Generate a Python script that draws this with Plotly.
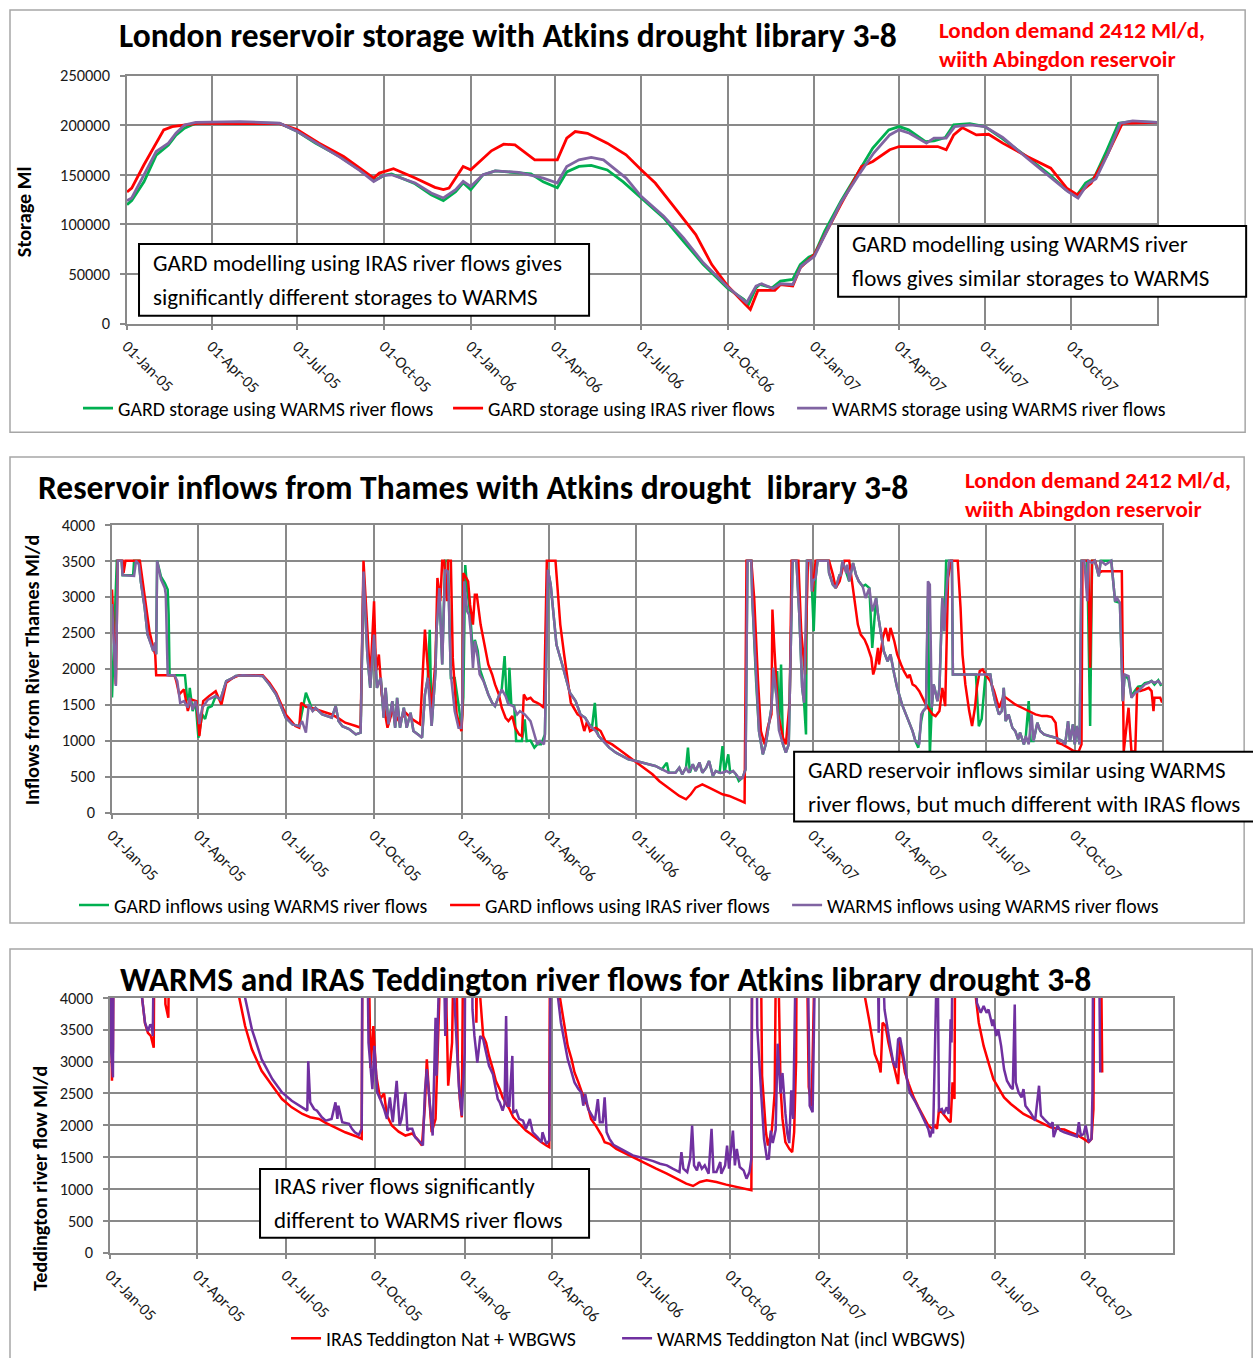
import pandas as pd
import plotly.graph_objects as go

W, H = 1253, 1358
START = pd.Timestamp("2005-01-01")
FONT = "Carlito, Calibri, 'Open Sans', sans-serif"
GRID = "#898989"
GREEN, RED, PURPLE, PURPLE3 = "#00b050", "#ff0000", "#8064a2", "#7030a0"

# ---------------- data: (days since 01-Jan-05, value) ----------------
# Panel 1: London reservoir storage (Ml)
STORAGE_GARD_WARMS = [
    (0, 120000), (5, 124000), (18, 143000), (31, 170000), (44, 180000), (52, 190000), (61, 197000),
    (73, 202000), (90, 203000), (162, 202000), (181, 193700), (200, 182000), (226, 168500),
    (247, 155000), (264, 145000), (273, 149500), (281, 151000), (306, 141000), (323, 130000),
    (336, 124000), (349, 133000), (357, 142000), (365, 135000), (378, 150000), (391, 154000),
    (416, 152000), (429, 151000), (442, 143000), (457, 137000), (467, 153000), (480, 158500),
    (493, 159500), (510, 155000), (527, 143000), (546, 126700), (570, 106600), (591, 83100),
    (612, 59600), (638, 35500), (655, 24500), (660, 19400), (668, 36200), (672, 39500),
    (685, 36200), (694, 42900), (707, 44600), (715, 59600), (724, 67000), (730, 69700),
    (741, 93200), (758, 123300), (775, 150100), (792, 177000), (809, 195400), (820, 198700),
    (830, 195400), (848, 183600), (857, 184300), (869, 187700), (878, 200400), (895, 201700),
    (911, 198700), (929, 187000), (955, 168600), (980, 150100), (997, 135100), (1008, 128400),
    (1018, 141800), (1027, 146800), (1040, 173600), (1053, 202000), (1066, 203800), (1094, 203000),
]
STORAGE_GARD_IRAS = [
    (0, 132700), (5, 136700), (18, 160200), (31, 182000), (39, 195400), (48, 198700), (65, 200400),
    (77, 202100), (120, 201700), (162, 201700), (181, 195400), (204, 182000), (230, 168600),
    (247, 156800), (262, 146800), (268, 151800), (273, 153500), (283, 156200), (306, 146800),
    (327, 137400), (336, 135100), (342, 136700), (357, 158500), (365, 155200), (387, 174300),
    (400, 181000), (412, 180300), (433, 165200), (457, 165200), (467, 187000), (476, 193700),
    (489, 192000), (510, 182000), (530, 170200), (546, 155200), (561, 141800), (582, 116600),
    (604, 89800), (621, 59600), (638, 37900), (655, 21100), (662, 14400), (670, 33500),
    (688, 33500), (694, 39500), (707, 37900), (715, 56300), (730, 69700), (758, 120000),
    (780, 158500), (792, 163500), (810, 175300), (820, 178600), (861, 178600), (870, 175300),
    (878, 190300), (887, 197700), (902, 190300), (915, 191000), (930, 182000), (956, 168600),
    (981, 156800), (998, 136700), (1009, 130000), (1024, 141800), (1041, 170200), (1057, 202000),
    (1094, 203000),
]
STORAGE_WARMS = [
    (0, 124000), (5, 126700), (18, 150100), (31, 173600), (44, 182000), (52, 192000), (61, 200400),
    (73, 203000), (120, 203800), (162, 202100), (181, 193700), (205, 180300), (226, 167900),
    (247, 154500), (262, 143400), (273, 149500), (281, 150100), (306, 141800), (323, 131700),
    (336, 126700), (349, 135100), (357, 143400), (365, 138400), (378, 150100), (391, 154100),
    (416, 152500), (442, 146800), (457, 141800), (467, 158500), (480, 165200), (493, 167600),
    (506, 165200), (530, 146800), (546, 128400), (570, 108200), (591, 86500), (612, 61300),
    (638, 36900), (658, 21100), (668, 37900), (674, 40200), (686, 35500), (694, 40200),
    (707, 39500), (716, 58000), (730, 68000), (758, 121600), (776, 148500), (793, 172000),
    (810, 190300), (820, 195400), (831, 192000), (849, 182000), (857, 187000), (870, 187000),
    (879, 198700), (896, 200400), (911, 198700), (930, 187700), (956, 166900), (982, 146800),
    (999, 133400), (1010, 126700), (1020, 140800), (1029, 146100), (1042, 172000), (1055, 202000),
    (1068, 204400), (1094, 203000),
]

# Panel 2: reservoir inflows from Thames (Ml/d)
INFLOW_GARD_WARMS = [
    (0, 1600), (3, 2600), (5, 3500), (10, 3500), (11, 3300), (22, 3300), (23, 3500), (28, 3500),
    (30, 3210), (34, 2850), (37, 2475), (41, 2335), (43, 2245), (45, 2360), (46, 2200), (47, 3500),
    (51, 3280), (55, 3190), (58, 3100), (59, 2750), (60, 1910), (76, 1910), (78, 1619), (80, 1549),
    (81, 1734), (84, 1410), (87, 1549), (90, 1041), (94, 1364), (97, 1300), (100, 1457), (104, 1480),
    (108, 1620), (113, 1570), (119, 1827), (126, 1873), (129, 1900), (136, 1910), (153, 1910),
    (157, 1900), (164, 1780), (171, 1642), (181, 1318), (188, 1226), (195, 1200), (199, 1480),
    (202, 1665), (206, 1526), (209, 1410), (212, 1457), (219, 1364), (229, 1318), (233, 1480),
    (236, 1272), (240, 1200), (247, 1160), (254, 1087), (259, 1110), (262, 3300), (266, 2190),
    (269, 1734), (273, 2475), (276, 1734), (280, 1873), (283, 1318), (285, 1734), (288, 1226),
    (292, 1549), (295, 1179), (297, 1595), (300, 1179), (304, 1457), (307, 1179), (311, 1387),
    (314, 1133), (319, 1087), (323, 1041), (326, 1642), (329, 1873), (331, 2540), (333, 1203),
    (337, 1965), (338, 2520), (341, 3120), (344, 2058), (347, 3500), (350, 3500), (353, 1870),
    (357, 1870), (361, 1500), (364, 1179), (366, 1600), (368, 3440), (370, 3100), (372, 2900),
    (374, 2600), (376, 2200), (378, 2400), (381, 2250), (383, 2000), (387, 1827), (392, 1642),
    (396, 1526), (399, 1480), (403, 1619), (406, 1711), (409, 2174), (411, 1619), (413, 1503),
    (414, 2012), (416, 1503), (419, 1480), (421, 994), (425, 1000), (427, 994), (430, 1295),
    (432, 994), (436, 1000), (440, 902), (443, 948), (447, 948), (451, 1087), (454, 3376),
    (457, 3168), (460, 2752), (463, 2335), (469, 2058), (474, 1827), (477, 1665), (483, 1549),
    (488, 1364), (493, 1318), (497, 1226), (500, 1179), (503, 1526), (505, 1133), (507, 1064),
    (512, 994), (518, 902), (525, 833), (532, 786), (538, 740), (546, 717), (553, 694), (559, 671),
    (566, 648), (573, 601), (578, 694), (580, 555), (587, 555), (591, 624), (594, 532), (598, 624),
    (600, 902), (602, 555), (605, 671), (608, 578), (612, 694), (615, 555), (619, 624), (622, 717),
    (626, 509), (629, 578), (633, 555), (636, 925), (638, 555), (642, 809), (644, 555), (647, 578),
    (650, 532), (653, 440), (657, 486), (660, 601), (662, 3500), (666, 3500), (667, 2983),
    (671, 1827), (674, 1133), (678, 809), (681, 948), (687, 1457), (689, 2012), (692, 1642),
    (693, 1966), (695, 1133), (697, 2058), (699, 948), (702, 833), (705, 948), (707, 2475),
    (709, 3500), (713, 3500), (716, 2752), (719, 1734), (721, 1526), (723, 1087), (724, 3500),
    (728, 3500), (731, 2520), (733, 3260), (735, 3500), (746, 3500), (747, 3330), (751, 3168),
    (754, 3122), (758, 3307), (759, 3284), (761, 3500), (765, 3330), (768, 3214), (772, 3469),
    (775, 3307), (778, 3214), (782, 3145), (785, 3168), (789, 3122), (792, 2290), (796, 2983),
    (798, 2752), (801, 2474), (804, 2243), (808, 2104), (811, 2197), (815, 1919), (818, 1734),
    (823, 1503), (827, 1364), (830, 1272), (834, 1133), (837, 994), (840, 902), (843, 1272),
    (845, 1411), (848, 1457), (850, 2983), (852, 800), (854, 1457), (856, 1781), (860, 1549),
    (862, 1734), (865, 2983), (867, 2520), (869, 3500), (875, 3500), (876, 1919), (900, 1919),
    (903, 1200), (906, 1300), (910, 1919), (915, 1919), (917, 1734), (920, 1549), (924, 1364),
    (927, 1411), (929, 1734), (931, 1272), (934, 1364), (938, 1179), (941, 1133), (944, 1018),
    (946, 1110), (950, 948), (952, 1064), (955, 1549), (957, 994), (960, 994), (964, 1249),
    (967, 1133), (971, 1087), (976, 1064), (983, 1041), (990, 994), (993, 948), (996, 1272),
    (998, 994), (1001, 1226), (1003, 948), (1005, 1203), (1008, 948), (1010, 3500), (1016, 3500),
    (1019, 1203), (1021, 3500), (1024, 3500), (1028, 3284), (1030, 3500), (1041, 3500),
    (1045, 2937), (1050, 2914), (1053, 1549), (1055, 1919), (1059, 1850), (1062, 1620),
    (1066, 1700), (1069, 1750), (1073, 1760), (1076, 1800), (1080, 1810), (1083, 1830),
    (1086, 1780), (1090, 1840), (1093, 1760),
]
INFLOW_GARD_IRAS = [
    (0, 3100), (4, 1780), (6, 3500), (11, 3500), (12, 3330), (14, 3500), (29, 3500), (32, 3215),
    (36, 2800), (39, 2520), (43, 2290), (45, 2200), (46, 1910), (65, 1910), (67, 1827), (70, 1642),
    (75, 1711), (79, 1411), (82, 1573), (88, 1549), (91, 1064), (95, 1549), (101, 1619), (108, 1688),
    (114, 1503), (119, 1804), (126, 1873), (133, 1910), (157, 1910), (164, 1804), (171, 1665),
    (181, 1364), (191, 1203), (195, 1179), (197, 1526), (202, 1469), (209, 1450), (219, 1404),
    (229, 1364), (236, 1309), (243, 1249), (254, 1203), (259, 1179), (262, 3500), (265, 2752),
    (268, 1919), (269, 1827), (273, 2937), (275, 1966), (278, 2197), (281, 1642), (287, 1179),
    (292, 1411), (299, 1272), (306, 1387), (313, 1295), (321, 1226), (326, 2544), (330, 1827),
    (333, 1457), (337, 2104), (339, 3261), (342, 2937), (344, 3500), (346, 3500), (349, 2937),
    (350, 3500), (353, 3500), (355, 2150), (359, 1364), (364, 1133), (365, 1364), (366, 3330),
    (369, 3261), (371, 3214), (373, 2890), (376, 2613), (378, 3029), (380, 3029), (384, 2613),
    (389, 2289), (392, 2058), (396, 1919), (399, 1781), (403, 1642), (406, 1457), (410, 1318),
    (413, 1272), (417, 1341), (420, 1179), (424, 1087), (427, 1064), (429, 1642), (432, 1573),
    (436, 1596), (439, 1549), (443, 1526), (446, 1503), (450, 1457), (453, 3500), (462, 3500),
    (465, 3029), (467, 2613), (471, 2197), (474, 1873), (478, 1526), (481, 1457), (485, 1364),
    (488, 1341), (492, 1133), (495, 1272), (498, 1133), (504, 1179), (509, 1133), (514, 994),
    (521, 948), (528, 879), (535, 809), (542, 740), (549, 671), (556, 601), (563, 532), (570, 439),
    (577, 370), (584, 300), (591, 231), (598, 185), (603, 254), (608, 347), (615, 393), (622, 347),
    (629, 300), (636, 254), (643, 231), (650, 185), (655, 162), (659, 139), (661, 3500), (666, 3500),
    (669, 2983), (673, 1827), (676, 1133), (680, 948), (683, 1179), (687, 1364), (688, 2821),
    (690, 2289), (694, 1364), (699, 1041), (702, 948), (706, 1549), (708, 3500), (715, 3500),
    (718, 2520), (722, 1919), (725, 3500), (728, 3500), (730, 3075), (733, 3500), (747, 3500),
    (751, 3307), (754, 3122), (758, 3214), (761, 3376), (763, 3500), (768, 3500), (771, 3214),
    (773, 3029), (777, 2613), (780, 2474), (784, 2405), (787, 2312), (791, 2150), (793, 1919),
    (795, 2012), (798, 2289), (799, 2058), (803, 2428), (806, 2567), (809, 2382), (811, 2567),
    (815, 2382), (818, 2197), (822, 2058), (825, 1966), (829, 1873), (831, 1919), (834, 1781),
    (837, 1758), (841, 1688), (844, 1596), (847, 1526), (850, 1457), (855, 1364), (858, 1341),
    (862, 1411), (865, 1734), (868, 1480), (871, 3261), (874, 3500), (881, 3500), (884, 2844),
    (886, 2197), (889, 1781), (893, 1411), (896, 1203), (899, 1457), (901, 1734), (904, 1966),
    (907, 1989), (910, 1919), (915, 1827), (919, 1688), (924, 1457), (929, 1619), (934, 1573),
    (941, 1503), (948, 1457), (955, 1411), (962, 1364), (969, 1341), (974, 1341), (979, 1327),
    (983, 1249), (985, 971), (990, 948), (996, 902), (1002, 856), (1007, 846), (1010, 948),
    (1011, 3500), (1017, 3500), (1019, 2012), (1021, 3500), (1024, 3500), (1028, 3330),
    (1031, 3353), (1052, 3353), (1054, 850), (1059, 1457), (1062, 850), (1066, 850), (1068, 1734),
    (1071, 1688), (1076, 1711), (1080, 1734), (1083, 1688), (1085, 1411), (1086, 1596),
    (1092, 1596), (1094, 1530),
]
INFLOW_WARMS = [
    (0, 2900), (4, 1760), (6, 3500), (10, 3500), (11, 3300), (23, 3290), (25, 3500), (28, 3450),
    (30, 3210), (34, 2850), (37, 2475), (41, 2335), (43, 2245), (45, 2360), (46, 2200), (47, 3500),
    (49, 3350), (51, 3240), (55, 3120), (56, 3030), (58, 1910), (65, 1910), (68, 1827), (71, 1525),
    (75, 1550), (79, 1457), (81, 1595), (84, 1430), (87, 1550), (90, 1364), (91, 1230), (94, 1457),
    (100, 1570), (108, 1620), (113, 1570), (119, 1827), (126, 1873), (129, 1900), (136, 1910),
    (153, 1910), (157, 1900), (164, 1780), (171, 1642), (181, 1318), (188, 1226), (195, 1200),
    (198, 1272), (202, 1110), (205, 1503), (209, 1410), (212, 1457), (219, 1364), (229, 1318),
    (233, 1480), (236, 1272), (240, 1200), (247, 1160), (254, 1087), (259, 1110), (262, 3350),
    (266, 2190), (269, 1734), (273, 2475), (276, 1734), (280, 1873), (283, 1318), (285, 1734),
    (288, 1226), (292, 1549), (295, 1179), (297, 1595), (300, 1179), (304, 1457), (307, 1179),
    (311, 1387), (314, 1133), (319, 1087), (323, 1041), (326, 1642), (329, 1873), (333, 1203),
    (337, 1965), (338, 2520), (341, 3120), (344, 2058), (347, 3376), (350, 3350), (353, 1920),
    (357, 1411), (361, 1179), (364, 1179), (365, 1549), (367, 3214), (369, 2983), (370, 2798),
    (372, 2752), (374, 2475), (376, 2012), (378, 2382), (381, 2150), (383, 1920), (387, 1827),
    (392, 1642), (396, 1526), (399, 1480), (403, 1619), (406, 1711), (410, 1619), (413, 1503),
    (418, 1480), (422, 1364), (425, 1411), (430, 1364), (436, 1272), (439, 1133), (443, 948),
    (446, 994), (450, 948), (451, 1087), (454, 3376), (457, 3168), (460, 2752), (463, 2335),
    (469, 2058), (474, 1827), (477, 1665), (483, 1549), (488, 1364), (493, 1318), (497, 1226),
    (500, 1179), (504, 1133), (507, 1064), (512, 994), (518, 902), (525, 833), (532, 786),
    (538, 740), (546, 717), (553, 694), (559, 671), (566, 648), (573, 601), (580, 555), (587, 555),
    (591, 624), (594, 532), (598, 624), (601, 555), (605, 671), (608, 578), (612, 694), (615, 555),
    (619, 624), (622, 717), (626, 509), (629, 578), (633, 555), (636, 555), (640, 578), (643, 555),
    (647, 578), (650, 532), (654, 463), (657, 486), (660, 601), (662, 3500), (666, 3500),
    (667, 2983), (671, 1827), (674, 1133), (678, 809), (681, 948), (687, 1457), (689, 2012),
    (692, 1642), (695, 1133), (699, 948), (702, 833), (705, 948), (707, 2475), (709, 3500),
    (713, 3500), (716, 2752), (719, 1734), (721, 1526), (724, 3500), (728, 3500), (729, 3075),
    (730, 3214), (733, 3260), (735, 3500), (746, 3500), (747, 3330), (751, 3168), (754, 3122),
    (758, 3307), (759, 3284), (761, 3500), (765, 3330), (766, 3446), (768, 3214), (772, 3469),
    (775, 3307), (778, 3214), (782, 3145), (785, 2983), (789, 3122), (792, 2798), (796, 2983),
    (798, 2752), (801, 2474), (804, 2243), (808, 2104), (811, 2197), (815, 1919), (818, 1734),
    (823, 1503), (827, 1364), (830, 1272), (834, 1133), (837, 994), (841, 948), (843, 1364),
    (845, 1411), (848, 1457), (850, 3214), (852, 3168), (854, 1457), (856, 1781), (860, 1549),
    (862, 1734), (865, 2983), (867, 2520), (869, 3029), (872, 3500), (875, 3500), (876, 1919),
    (915, 1919), (917, 1734), (920, 1549), (924, 1364), (927, 1411), (929, 1734), (931, 1272),
    (934, 1364), (938, 1179), (941, 1133), (944, 1018), (946, 1110), (950, 948), (952, 1064),
    (955, 948), (958, 1364), (960, 994), (964, 1249), (967, 1133), (971, 1087), (976, 1064),
    (983, 1041), (990, 994), (993, 948), (996, 1272), (998, 994), (1001, 1226), (1003, 948),
    (1005, 1203), (1008, 948), (1010, 3500), (1013, 3500), (1016, 2937), (1017, 3500),
    (1021, 3469), (1024, 3500), (1028, 3284), (1030, 3500), (1035, 3446), (1041, 3500),
    (1045, 2937), (1047, 2983), (1050, 2914), (1053, 1549), (1055, 1919), (1059, 1896),
    (1062, 1596), (1066, 1665), (1069, 1688), (1073, 1734), (1076, 1781), (1080, 1804),
    (1083, 1827), (1086, 1804), (1090, 1827), (1093, 1781),
]

# Panel 3: Teddington river flows (Ml/d); values above 4000 run off the top of the chart
TEDD_IRAS = [
    (0, 6000), (1, 3500), (2, 2700), (3, 3200), (4, 6000), (30, 6000), (33, 4000), (36, 3600),
    (39, 3450), (42, 3400), (45, 3218), (46, 6000), (55, 6000), (57, 3900), (60, 3687), (62, 6000),
    (130, 6000), (133, 4000), (139, 3557), (146, 3192), (156, 2854), (167, 2620), (177, 2411),
    (187, 2281), (198, 2177), (206, 2125), (215, 2099), (222, 2036), (232, 1968), (242, 1890),
    (253, 1828), (259, 1786), (260, 6000), (265, 6000), (268, 2900), (271, 3557), (274, 2776),
    (278, 2411), (282, 2500), (285, 2151), (290, 1995), (297, 1900), (304, 1838), (311, 1870),
    (316, 1786), (321, 1682), (324, 2300), (326, 3036), (328, 2550), (331, 1890), (335, 2099),
    (338, 4200), (343, 6000), (346, 4000), (348, 2620), (352, 3297), (355, 6000), (358, 3000),
    (360, 2400), (362, 2125), (364, 6000), (376, 6000), (377, 3609), (379, 6000), (381, 4000),
    (384, 3401), (387, 3297), (390, 3088), (394, 2880), (397, 2698), (401, 2567), (404, 2437),
    (408, 2333), (411, 2255), (415, 2125), (418, 2073), (421, 2021), (425, 1969), (428, 1916),
    (433, 1864), (439, 1786), (444, 1734), (449, 1682), (452, 1656), (453, 6000), (460, 6000),
    (463, 4000), (468, 3505), (471, 3245), (475, 3036), (478, 2828), (482, 2672), (485, 2541),
    (488, 2411), (492, 2281), (495, 2099), (500, 1990), (506, 1838), (509, 1734), (514, 1708),
    (521, 1630), (531, 1552), (542, 1474), (552, 1396), (562, 1318), (573, 1240), (583, 1161),
    (593, 1083), (600, 1047), (607, 1109), (614, 1135), (624, 1109), (634, 1068), (645, 1031),
    (655, 1005), (660, 979), (661, 6000), (669, 6000), (671, 2776), (675, 1890), (677, 1682),
    (681, 1916), (684, 2515), (686, 6000), (690, 2600), (692, 2099), (695, 1734), (699, 1630),
    (702, 1578), (704, 1890), (706, 3000), (707, 6000), (716, 6000), (719, 2600), (722, 2300),
    (725, 3500), (727, 6000), (776, 6000), (777, 4000), (781, 3666), (784, 3354), (787, 3114),
    (791, 2960), (793, 2828), (795, 3609), (798, 3560), (801, 3297), (805, 3036), (808, 2828),
    (811, 2646), (813, 3323), (815, 3097), (818, 2828), (822, 2646), (827, 2437), (832, 2281),
    (837, 2125), (842, 1995), (846, 1943), (849, 1995), (851, 1943), (853, 2229), (856, 2203),
    (860, 2125), (863, 2073), (865, 2047), (867, 2672), (869, 2411), (870, 6000), (889, 6000),
    (891, 4000), (894, 3609), (899, 3245), (904, 2984), (909, 2724), (915, 2567), (920, 2437),
    (927, 2333), (933, 2255), (940, 2177), (947, 2125), (954, 2073), (961, 2021), (968, 1968),
    (975, 1943), (982, 1932), (988, 1890), (995, 1849), (1002, 1786), (1007, 1734), (1010, 1786),
    (1012, 2255), (1013, 6000), (1019, 6000), (1021, 2828),
]
TEDD_WARMS = [
    (0, 6000), (1, 3200), (3, 2750), (4, 6000), (32, 6000), (33, 4000), (36, 3609), (39, 3479),
    (41.5, 3583), (43, 3550), (44, 3400), (46, 6000), (131, 6000), (139, 4000), (146, 3505),
    (156, 3036), (167, 2724), (177, 2515), (187, 2385), (198, 2281), (203, 2229), (204, 3005),
    (206, 2359), (210, 2255), (213, 2229), (218, 2125), (222, 2073), (228, 2099), (232, 2359),
    (234, 2099), (235, 2307), (239, 2047), (246, 2021), (249, 1943), (252, 1890), (256, 1849),
    (259, 1943), (260, 6000), (264, 6000), (266, 3297), (270, 2567), (272, 3245), (275, 2515),
    (278, 2411), (282, 2255), (285, 2099), (288, 2437), (291, 2047), (295, 2698), (298, 1995),
    (300, 2099), (304, 2515), (306, 1916), (308, 1943), (311, 1943), (314, 1812), (318, 1760),
    (321, 1708), (322, 1682), (324, 2515), (326, 2880), (330, 2099), (332, 1838), (335, 3687),
    (336, 2776), (338, 4000), (342, 6000), (345, 3400), (347, 6000), (350, 6000), (355, 3800),
    (359, 2600), (362, 2151), (365, 3141), (366, 6000), (372, 6000), (373, 3817), (375, 3401),
    (378, 2984), (381, 3401), (384, 3349), (387, 3141), (390, 2932), (394, 2802), (397, 2594),
    (399, 2411), (401, 2359), (404, 2229), (406, 2333), (407.6, 3713), (409, 2307), (411, 2307),
    (414, 3088), (415, 2203), (418, 2229), (421, 2099), (425, 2073), (428, 1943), (432, 2099),
    (435, 1890), (440, 1812), (444, 1734), (445, 1890), (449, 1708), (452, 1760), (454, 6000),
    (459, 6000), (461, 4000), (464, 3609), (468, 3297), (471, 3036), (475, 2828), (478, 2672),
    (482, 2567), (485, 2515), (487, 2307), (489, 2489), (492, 2255), (495, 2177), (499, 2073),
    (502, 2411), (504, 2047), (507, 2047), (509, 2437), (511, 1890), (514, 1786), (518, 1693),
    (525, 1630), (531, 1588), (538, 1526), (545, 1500), (552, 1474), (559, 1437), (566, 1396),
    (573, 1370), (579, 1318), (586, 1265), (588, 1578), (590, 1318), (594, 1265), (597, 1474),
    (599, 1995), (601, 1370), (604, 1292), (606, 1422), (609, 1318), (612, 1370), (616, 1240),
    (619, 1943), (621, 1265), (624, 1265), (628, 1422), (629, 1240), (633, 1370), (635, 1682),
    (637, 1318), (640, 1703), (641, 1916), (643, 1370), (645, 1630), (648, 1344), (652, 1292),
    (655, 1161), (658, 1265), (660, 1474), (661, 6000), (665, 6000), (666, 3557), (670, 2515),
    (673, 1786), (676, 1474), (678, 1480), (680, 1916), (682, 1720), (685, 1930), (687, 3280),
    (690, 2500), (692, 2820), (695, 2190), (697, 1870), (699, 1720), (701, 2550), (703, 2100),
    (705, 3180), (707, 6000), (717, 6000), (720, 2307), (723, 2203), (725, 3141), (727, 6000),
    (789, 6000), (790, 4000), (791, 3453), (792, 6000), (797, 3817), (801, 3401), (803, 3245),
    (806, 2984), (809, 2900), (811, 3349), (813, 3375), (817, 3036), (820, 2724), (823, 2515),
    (829, 2359), (834, 2203), (839, 2047), (842, 1943), (844, 1812), (846, 1943), (847, 1870),
    (850, 3974), (851, 6000), (853, 2229), (856, 2255), (858, 2177), (861, 2281), (863, 2177),
    (865, 3661), (866, 3297), (868, 6000), (890, 6000), (892, 3921), (896, 3765), (899, 3870),
    (902, 3765), (904, 3817), (908, 3557), (909, 3661), (912, 3401), (914, 3505), (917, 3245),
    (920, 2880), (923, 2698), (927, 2594), (929, 2567), (931, 3895), (932, 2672), (935, 2515),
    (938, 2437), (940, 2567), (942, 2307), (947, 2203), (952, 2073), (956, 2620), (958, 2151),
    (961, 2099), (964, 2047), (968, 1995), (970, 2047), (971, 1812), (975, 1995), (978, 1916),
    (982, 1890), (988, 1864), (995, 1823), (997, 2047), (999, 1838), (1002, 1864), (1004, 1995),
    (1006, 1838), (1007, 1734), (1010, 1786), (1011, 2515), (1012, 6000), (1017, 6000),
    (1019, 2828),
]

TITLES = [
    "London reservoir storage with Atkins drought library 3-8",
    "Reservoir inflows from Thames with Atkins drought  library 3-8",
    "WARMS and IRAS Teddington river flows for Atkins library drought 3-8",
]
Y_TITLES = ["Storage Ml", "Inflows from River Thames Ml/d", "Teddington river flow Ml/d"]
NOTE = ["London demand 2412 Ml/d,", "wiith Abingdon reservoir"]

# Layout positions below are given in screen pixels of the target picture.  The page is
# photographed with a small offset/scale, measured as screen = a + b * page.
CAL_X = (7.0, 0.9927)
CAL_Y = (8.0, 0.988)


def px(x):
    return ((x - CAL_X[0]) / CAL_X[1]) / W


def py(y):
    return 1 - ((y - CAL_Y[0]) / CAL_Y[1]) / H


def series(pairs):
    days = [p[0] for p in pairs]
    vals = [p[1] for p in pairs]
    return START + pd.to_timedelta(days, unit="D"), vals


fig = go.Figure()

traces = [
    (STORAGE_GARD_WARMS, "GARD storage using WARMS river flows", GREEN, "", "legend", 2.8),
    (STORAGE_GARD_IRAS, "GARD storage using IRAS river flows", RED, "", "legend2", 2.8),
    (STORAGE_WARMS, "WARMS storage using WARMS river flows", PURPLE, "", "legend3", 2.8),
    (INFLOW_GARD_WARMS, "GARD inflows using WARMS river flows", GREEN, "2", "legend4", 2.5),
    (INFLOW_GARD_IRAS, "GARD inflows using IRAS river flows", RED, "2", "legend5", 2.5),
    (INFLOW_WARMS, "WARMS inflows using WARMS river flows", PURPLE, "2", "legend6", 2.5),
    (TEDD_IRAS, "IRAS Teddington Nat + WBGWS", RED, "3", "legend7", 2.5),
    (TEDD_WARMS, "WARMS Teddington Nat (incl WBGWS)", PURPLE3, "3", "legend8", 2.5),
]
for data, name, col, ax, leg, lw in traces:
    xs, ys = series(data)
    fig.add_trace(go.Scatter(
        x=xs, y=ys, mode="lines", name=name, line=dict(color=col, width=lw),
        xaxis="x" + ax, yaxis="y" + ax, legend=leg, showlegend=True,
    ))

tickfont = dict(family=FONT, size=16.4, color="#1a1a1a")
common = dict(showgrid=True, gridcolor=GRID, gridwidth=1.5, showline=True, linecolor=GRID,
              linewidth=1.5, mirror=True, ticks="outside", ticklen=5, tickcolor=GRID,
              tickwidth=1.5, zeroline=False, fixedrange=True, tickfont=tickfont)
ycommon = dict(common, tickformat="d", ticklabelstandoff=7)
xcommon = dict(common, type="date", tickformat="%d-%b-%y", dtick="M3", tick0="2005-01-01",
               tickangle=45, range=["2005-01-01", "2007-12-31"],
               tickfont=dict(family=FONT, size=16.2, color="#1a1a1a"))

# panel plot areas in target pixels: (left, right, top, bottom)
P1 = (125, 1155, 74, 323)
P2 = (110, 1160, 525, 814)
P3 = (108, 1171, 1000, 1256)

fig.update_layout(
    width=W, height=H, margin=dict(l=0, r=0, t=0, b=0),
    paper_bgcolor="white", plot_bgcolor="white",
    font=dict(family=FONT, color="black"),
    xaxis=dict(xcommon, domain=[px(P1[0]), px(P1[1])], anchor="y"),
    yaxis=dict(ycommon, domain=[py(P1[3]), py(P1[2])], range=[0, 250000], dtick=50000,
               anchor="x"),
    xaxis2=dict(xcommon, domain=[px(P2[0]), px(P2[1])], anchor="y2"),
    yaxis2=dict(ycommon, domain=[py(P2[3]), py(P2[2])], range=[0, 4000], dtick=500,
                anchor="x2"),
    xaxis3=dict(xcommon, domain=[px(P3[0]), px(P3[1])], anchor="y3"),
    yaxis3=dict(ycommon, domain=[py(P3[3]), py(P3[2])], range=[0, 4000], dtick=500,
                anchor="x3"),
    showlegend=True,
)

legend_pos = {
    "legend": (82, 408), "legend2": (452, 408), "legend3": (796, 408),
    "legend4": (78, 907), "legend5": (449, 907), "legend6": (791, 907),
    "legend7": (290, 1342), "legend8": (621, 1342),
}
for key, (lx, ly) in legend_pos.items():
    fig.update_layout({key: dict(
        x=px(lx - 6), y=py(ly), xanchor="left", yanchor="middle", orientation="h",
        bgcolor="rgba(0,0,0,0)", borderwidth=0, itemwidth=30,
        font=dict(family=FONT, size=19.8, color="black"),
    )})

shapes = []
annotations = []

for (x0, y0, x1, y1) in [(8, 8, 1243, 432), (8, 457, 1242, 925), (8, 951, 1250, 1372)]:
    shapes.append(dict(type="rect", xref="paper", yref="paper", x0=px(x0), x1=px(x1),
                       y0=py(y1), y1=py(y0), line=dict(color="#a6a6a6", width=1.5),
                       fillcolor="rgba(0,0,0,0)", layer="below"))

for text, cx, cy in [(TITLES[0], 506, 34), (TITLES[1], 471, 488), (TITLES[2], 603, 982)]:
    annotations.append(dict(text="<b>%s</b>" % text, x=px(cx), y=py(cy), xref="paper",
                            yref="paper", showarrow=False, xanchor="center", yanchor="middle",
                            font=dict(family=FONT, size=33.5, color="black")))

for lx, ly in [(935, 28), (961, 480)]:
    for i, line in enumerate(NOTE):
        annotations.append(dict(text="<b>%s</b>" % line, x=px(lx), y=py(ly + 29 * i),
                                xref="paper", yref="paper", showarrow=False, xanchor="left",
                                yanchor="middle", font=dict(family=FONT, size=23, color=RED)))

for text, cx, cy in [(Y_TITLES[0], 22, 211), (Y_TITLES[1], 30, 671), (Y_TITLES[2], 38, 1182)]:
    annotations.append(dict(text="<b>%s</b>" % text, x=px(cx), y=py(cy), xref="paper",
                            yref="paper", showarrow=False, textangle=-90, xanchor="center",
                            yanchor="middle", font=dict(family=FONT, size=20.2, color="black")))

boxes = [
    ((137, 243, 587, 315), ["GARD modelling using IRAS river flows gives",
                            "significantly different storages to WARMS"]),
    ((836, 225, 1244, 296), ["GARD modelling using WARMS river",
                             "flows gives similar storages to WARMS"]),
    ((792, 753, 1262, 823), ["GARD reservoir inflows similar using WARMS",
                             "river flows, but much different with IRAS flows"]),
    ((258, 1172, 587, 1241), ["IRAS river flows significantly",
                              "different to WARMS river flows"]),
]
for (x0, y0, x1, y1), lines in boxes:
    shapes.append(dict(type="rect", xref="paper", yref="paper", x0=px(x0), x1=px(x1),
                       y0=py(y1), y1=py(y0), line=dict(color="black", width=2),
                       fillcolor="white", layer="above"))
    mid = (y0 + y1) / 2
    for i, line in enumerate(lines):
        annotations.append(dict(text=line, x=px(x0 + 12), y=py(mid - 17 + 34 * i),
                                xref="paper", yref="paper", showarrow=False, xanchor="left",
                                yanchor="middle", font=dict(family=FONT, size=23, color="black")))

fig.update_layout(shapes=shapes, annotations=annotations)
fig.write_html(
    "out.html",
    config={"displayModeBar": False},
    post_script="document.body.style.margin='0px';document.body.style.overflow='hidden';",
)
